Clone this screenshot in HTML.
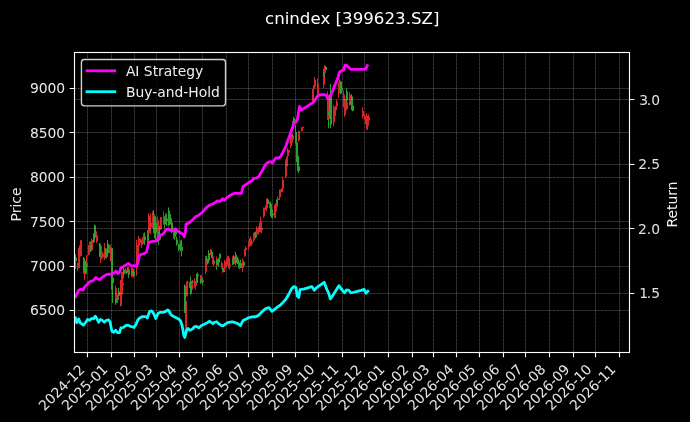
<!DOCTYPE html>
<html><head><meta charset="utf-8"><title>cnindex [399623.SZ]</title>
<style>html,body{margin:0;padding:0;background:#000;width:690px;height:422px;overflow:hidden}svg{display:block}</style>
</head><body>
<svg width="690" height="422" viewBox="0 0 690 422">
<rect width="690" height="422" fill="#000"/>
<defs><clipPath id="ax"><rect x="74.5" y="52.5" width="555" height="300"/></clipPath></defs>
<path d="M87.5 352.5V52.5M111.5 352.5V52.5M134.5 352.5V52.5M156.5 352.5V52.5M179.5 352.5V52.5M202.5 352.5V52.5M226.5 352.5V52.5M248.5 352.5V52.5M272.5 352.5V52.5M295.5 352.5V52.5M318.5 352.5V52.5M342.5 352.5V52.5M364.5 352.5V52.5M388.5 352.5V52.5M412.5 352.5V52.5M433.5 352.5V52.5M456.5 352.5V52.5M479.5 352.5V52.5M503.5 352.5V52.5M525.5 352.5V52.5M549.5 352.5V52.5M573.5 352.5V52.5M595.5 352.5V52.5M619.5 352.5V52.5M74.5 310.5H629.5M74.5 266.5H629.5M74.5 221.5H629.5M74.5 177.5H629.5M74.5 132.5H629.5M74.5 88.5H629.5" fill="none" stroke="#fff" stroke-opacity="0.15" stroke-width="0.69"/>
<path d="M87.5 352.5V52.5M111.5 352.5V52.5M134.5 352.5V52.5M156.5 352.5V52.5M179.5 352.5V52.5M202.5 352.5V52.5M226.5 352.5V52.5M248.5 352.5V52.5M272.5 352.5V52.5M295.5 352.5V52.5M318.5 352.5V52.5M342.5 352.5V52.5M364.5 352.5V52.5M388.5 352.5V52.5M412.5 352.5V52.5M433.5 352.5V52.5M456.5 352.5V52.5M479.5 352.5V52.5M503.5 352.5V52.5M525.5 352.5V52.5M549.5 352.5V52.5M573.5 352.5V52.5M595.5 352.5V52.5M619.5 352.5V52.5M74.5 310.5H629.5M74.5 266.5H629.5M74.5 221.5H629.5M74.5 177.5H629.5M74.5 132.5H629.5M74.5 88.5H629.5" fill="none" stroke="#fff" stroke-opacity="0.18" stroke-width="0.69" stroke-dasharray="2.57,1.11"/>
<g clip-path="url(#ax)"><g>
<path d="M77.5 263.02V271M78.5 248V268.41M79.5 245.39V261.5M80.5 241.29V256.64M80.5 240V249.97M84.5 270.79V274M84.5 260V280M86.5 255V271M88.5 244.91V255.4M89.5 241.5V246.21M90.5 242.35V249.76M91.5 238.5V251M95.5 230.8V235.75M96.5 234.55V243M96.5 236.7V242.49M100.5 250.22V263M101.5 246V256.59M102.5 252.46V258.24M104.5 243V260M106.5 254.27V257.35M109.5 244.6V253.5M110.5 247.9V261.5M115.5 285.7V303.64M117.5 294.29V302.83M120.5 279.89V306.4M121.5 271.6V305.83M122.5 272.09V293M122.5 272.84V280M125.5 267.99V273.23M128.5 266.6V278.2M131.5 267.63V276.24M132.5 267.82V277.07M136.5 240V275.7M137.5 245.03V256.38M137.5 248.89V258.58M138.5 236V253M139.5 238.05V243.34M141.5 239.41V248M142.5 237.45V244.69M143.5 233.3V240.81M144.5 233V240.55M147.5 237.36V242.98M148.5 213V238M149.5 215.99V230.37M150.5 213.4V234.26M152.5 211.48V228M157.5 216.6V242.37M159.5 229.21V240.18M160.5 216.96V229.8M163.5 215V220.37M163.5 211.6V224.73M165.5 213.29V224.17M173.5 228V238.31M175.5 230.38V234.99M181.5 245.05V255.94M186.5 281.55V296.3M187.5 280.6V282.93M191.5 281.73V291.4M192.5 279.8V283.12M194.5 278.1V287.62M195.5 281.25V289.7M200.5 274.8V280.19M201.5 277.87V282.65M205.5 256.19V273.9M207.5 259.24V264.08M210.5 249.1V255.23M212.5 253.15V264.18M213.5 261.11V265.41M216.5 256.5V268.91M221.5 261.5V268.55M222.5 270.25V273.1M224.5 260.02V271.5M226.5 258.2V266.17M227.5 256.1V265.49M228.5 255.7V268.49M229.5 260.29V269.8M229.5 261.87V268.32M232.5 256.38V260.61M234.5 256.14V264.1M239.5 261.42V269.5M242.5 258.5V272M244.5 248.94V256.4M245.5 247.57V250.06M245.5 246.4V249.36M248.5 242V249.8M248.5 241.5V248.92M249.5 238.44V246.4M250.5 236.5V242.39M251.5 240.75V245.5M253.5 232.96V242M254.5 232V236.48M256.5 226.5V237M258.5 226.51V234.55M259.5 222.64V231.59M260.5 216.6V227.94M260.5 220.11V232.53M261.5 228.11V233.2M263.5 207.56V217.5M264.5 207.74V210.61M265.5 205.5V210M266.5 198.63V211.5M269.5 201.67V208.34M274.5 204.4V217.75M275.5 203.2V218.1M276.5 202.53V208.1M277.5 196.5V200.49M279.5 189.57V199.9M280.5 189.4V192.08M281.5 188.2V192.1M282.5 181.05V191.6M282.5 176.6V183.72M285.5 159.25V178.3M286.5 161.28V167.5M286.5 156.4V168.27M287.5 148.1V163M288.5 149.93V156.09M290.5 134.7V148.1M292.5 133.2V142.79M298.5 130.92V141.5M301.5 128.58V131.5M301.5 127.59V129.55M302.5 126.5V129.27M312.5 89.07V102.7M313.5 85.12V90.52M314.5 77V87.5M314.5 78.31V84.48M317.5 78.5V98.4M317.5 79.05V97.9M323.5 68.52V88.5M324.5 65V77.67M327.5 91.3V119.8M333.5 109V126.4M333.5 105V115.61M334.5 107.05V120.85M335.5 105.55V111.2M336.5 99.8V107.22M338.5 82.24V97.9M339.5 81.53V84.73M339.5 79V86.8M343.5 90.3V107.4M344.5 97.9V116.9M345.5 100.4V114.94M346.5 98.01V109.62M349.5 92.2V105.5M350.5 100.71V104.88M362.5 107.4V118.59M364.5 113.94V120.26M365.5 115.74V124.5M366.5 113.1V129.33M367.5 115.69V130.1M368.5 114.15V120.62M185.5 300V334" fill="none" stroke="#d62728" stroke-width="1.0"/>
<path d="M74.5 243V268.28M75.5 254.54V269M83.5 257V273.61M85.5 260.98V274.41M90.5 241.5V252M93.5 233.32V243M94.5 224.6V242.06M99.5 243V252.94M99.5 250.84V257M105.5 248V258.12M106.5 249.61V258.5M107.5 240V255M111.5 247.7V289.96M112.5 273.31V292.47M112.5 268.62V303M115.5 298.56V304.8M116.5 298.12V303M118.5 288V299.91M123.5 267.4V276.2M126.5 270.89V273.9M127.5 267.15V272.95M128.5 271.46V277.64M131.5 270.02V276.26M133.5 268.74V277.39M144.5 232.48V245M147.5 230V241.72M153.5 210V219.21M153.5 211.6V233.18M154.5 227.05V238.44M155.5 215.9V239.8M158.5 231.24V244.8M159.5 225.71V240.57M164.5 216.28V228.2M166.5 213.87V226.01M168.5 207.4V226.5M169.5 210.66V222.72M169.5 211.63V225.18M170.5 214.14V224.44M171.5 220V233M174.5 228.2V239.8M175.5 229.12V234.64M176.5 236.5V245.6M178.5 243.68V251.4M179.5 245.5V249.32M180.5 240.61V251.08M181.5 239.8V256.4M189.5 282.46V287.75M190.5 276.4V294.7M191.5 281.04V283.18M196.5 273.69V284.7M197.5 272.3V276.36M197.5 273.85V277.99M200.5 277.1V283.8M202.5 277.73V284.7M206.5 255.7V264.55M207.5 260.82V264.5M208.5 250.03V263.3M211.5 249.7V258.05M213.5 257.99V265.7M216.5 259.87V269.8M217.5 259.1V264.79M218.5 258V266.5M219.5 253.2V260.3M222.5 267.15V271.26M223.5 270.64V272.07M232.5 257.74V264.96M233.5 255.21V261.57M235.5 252V265.5M237.5 257V264.04M238.5 260.69V266.25M238.5 261.72V268M240.5 259.58V268.21M243.5 260.8V267.8M254.5 232.92V236.94M255.5 231.5V238.36M267.5 198.2V208.21M270.5 201.5V216.15M270.5 208.46V216.17M271.5 208.74V217.98M272.5 209.24V218.2M276.5 199.59V203.92M291.5 134.26V137.97M292.5 121.25V130.5M293.5 116.6V123.07M295.5 124.9V143.7M296.5 132.03V162.31M297.5 147.06V171.18M298.5 157.39V173M323.5 71.68V77.54M325.5 65.99V72.54M328.5 100.88V128.3M329.5 95.6V118.99M330.5 84.2V118.59M330.5 97.9V128.2M340.5 80.9V94.1M341.5 84.58V93.38M346.5 88.4V103.6M349.5 98.95V104.35M351.5 94.1V110.19M352.5 96.58V111.2M184.5 284.5V313" fill="none" stroke="#2ca02c" stroke-width="1.0"/>
<path d="M78 263.95V267.99M79 254.87V267.99M80 251.11V256.12M81 245.91V256.12M81 240.26V245.91M85 271.96V273.29M85 267.36V273.8M87 263.13V267.29M89 244.91V254.85M90 244.05V245.17M91 245.91V248.53M92 239.69V250.3M96 231.25V235.18M97 235.18V241.15M97 238.49V241.15M101 251.66V259.45M102 251.66V253.74M103 253.54V257.33M105 248.35V255.93M107 255.45V257.06M110 245.06V251.98M111 251.98V259.64M116 288.17V301.55M118 295.76V298.22M121 290.2V294.5M122 283.31V294.5M123 283.31V285.56M123 274.18V278.6M126 269.68V271.89M129 269.14V274.4M132 271.37V273.51M133 271.15V273.29M137 247.52V268.08M138 247.52V254.86M138 250.81V254.86M139 238.68V245.87M140 238.68V243.07M142 243.04V245.08M143 237.54V243.99M144 237.54V239.59M145 236.22V238.26M148 239.89V242.03M149 219.86V232.88M150 219.86V222.58M151 222.58V227.16M153 214.34V223.83M158 220.19V232.17M160 234.67V239.86M161 217.35V229.39M164 217.33V218.46M164 216.73V224.26M166 217.85V221.14M174 228.94V236.65M176 231.05V232.83M182 246.91V250.2M187 282.01V296.13M188 282.01V282.7M192 283.08V289.56M193 281.33V282.72M195 281.51V283.6M196 281.51V285.84M201 275.37V279.71M202 279.7V281.47M206 258.59V271.39M208 261.71V262.78M211 252.09V253.72M213 256.3V260.76M214 261.42V264.2M217 262.47V265.4M222 263.18V267.8M223 270.75V271.83M225 261.21V268.77M227 261.21V263.3M228 257.94V263.45M229 257.94V264.48M230 264.48V266.3M230 264.54V266.36M233 258.03V259.66M235 258.81V263.23M240 263.25V266.61M243 262.23V267.72M245 249.06V256.21M246 248.78V249.73M246 247.67V248.78M249 243.59V247.12M249 243.59V247.12M250 238.69V246.13M251 238.69V241.44M252 241.44V243.38M254 234.72V240.32M255 233.72V235.1M257 228.66V234.28M259 228.2V232.09M260 224.88V229.4M261 221.11V224.88M261 221.11V228.24M262 228.24V230.28M264 209.07V216.48M265 208.59V209.38M266 206.65V208.59M267 199.44V207.3M270 203.89V206.44M275 210V214.8M276 208.37V211.18M277 203.09V206.95M278 198.6V200M280 191.29V197.23M281 189.94V191.45M282 189.94V191.45M283 181.75V188.49M283 179.95V181.75M286 163.54V176.7M287 163.54V166.46M287 160.16V166.46M288 150.01V156.12M289 150.01V152.81M291 137.1V146.06M293 135.34V139.46M299 131.12V140.45M302 128.68V131.12M302 128.05V128.68M303 127.08V128.05M313 89.11V101.54M314 86.86V89.11M315 79.47V86.86M315 79.47V82.82M318 83.93V89.17M318 89.17V93.35M324 76.5V84.84M325 66.98V73.23M328 95.53V119.04M334 111V122.59M334 107.98V111M335 107.98V116.36M336 106.23V110.23M337 101.7V106.23M339 83.22V93.22M340 81.95V83.52M340 80.63V82.2M344 94.54V102.77M345 98.86V110.48M346 102.28V110.48M347 102.28V109.02M350 95.05V102.36M351 101.32V103.24M363 111.04V116.31M365 116.31V117.64M366 117.58V120.73M367 116.57V125.64M368 120.16V125.64M369 116.87V120.16M186 301V331" fill="none" stroke="#d62728" stroke-width="2.0"/>
<path d="M75 257.42V261.02M76 257.42V261.02M84 258.33V271.96M86 263.51V273.8M91 245.91V248.53M94 237.38V239.75M95 225.55V237.38M100 243.81V251.96M100 251.96V256.72M106 248.55V255.45M107 250.28V256.52M108 244.09V252.99M112 248.12V283.16M113 277.76V283.16M113 277.76V280.5M116 298.63V301.55M117 298.22V300.07M119 291.4V295.76M124 269.68V274.18M127 271.09V272.18M128 269.14V271.99M129 272.7V274.84M132 271.37V273.51M134 271.15V276.08M145 236.78V239.89M148 233.8V240.77M154 214.03V215.56M154 216.32V231.7M155 231.7V233.24M156 223.01V232.72M159 232.17V239.86M160 234.67V238.63M165 217.85V224.26M167 218.44V221.14M169 214.69V222.55M170 214.69V218.93M170 218.93V221.29M171 218.37V220.74M172 222.72V230.91M175 231.05V236.65M176 231.85V234.56M177 239.58V244.15M179 244.15V248.13M180 246.63V248.43M181 244.03V247.32M182 247.55V250.83M190 282.63V285.8M191 285.78V293.58M192 281.33V283.08M197 274.9V282.97M198 274.52V276.31M198 274.52V276.31M201 279.7V281.47M203 280.59V282.36M207 258.59V261.71M208 261.92V262.98M209 252.89V260.49M212 252.09V256.3M214 260.76V262.38M217 261.42V264.2M218 262.55V264.46M219 258.19V262.55M220 253.92V258.19M223 267.8V270.75M224 271.08V272M233 259.66V264.51M234 258.03V259.64M236 254.84V263.23M238 258.74V262.61M239 262.61V265.77M239 264.05V265.77M241 263.25V267.72M244 262.23V265.47M255 233.79V235.17M256 233.72V237.3M268 199.44V203.89M271 203.76V213.69M271 212.65V214.29M272 212.65V214.29M273 213.62V215.27M277 199.75V203.09M292 135.34V137.1M293 121.53V129.06M294 118.19V121.53M296 132.84V142.62M297 142.62V155.81M298 155.81V166.55M299 166.55V170.69M324 73.23V76.5M326 66.98V70.05M329 111.71V114.6M330 103.77V111.98M331 92.68V103.77M331 102V124.42M341 81.6V88.6M342 87.65V90.22M347 91.58V100.58M350 102.36V104.28M352 101.47V106.45M353 105.69V110.66M185 285.5V312" fill="none" stroke="#2ca02c" stroke-width="2.0"/>
</g></g>
<path d="M74.5 293.5H629.5M74.5 228.5H629.5M74.5 164.5H629.5M74.5 99.5H629.5" fill="none" stroke="#fff" stroke-opacity="0.15" stroke-width="0.69"/>
<path d="M74.5 293.5H629.5M74.5 228.5H629.5M74.5 164.5H629.5M74.5 99.5H629.5" fill="none" stroke="#fff" stroke-opacity="0.18" stroke-width="0.69" stroke-dasharray="2.57,1.11"/>
<g clip-path="url(#ax)" fill="none" stroke-width="2.78" stroke-linejoin="round" stroke-linecap="square">
<path d="M75.6 296.58L77.2 293.38L78.8 290.18L80.93 289.12L83.06 290.18L84.66 286.98L86.79 284.85L88.93 282.19L91.06 281.12L93.19 280.59L95.86 277.39L97.45 278.99L99.59 279.52L101.72 277.92L104.38 275.79L106.52 274.72L109.18 274.19L111.85 274.19L114.51 272.59L116.11 270.99L117.71 273.66L119.31 272.59L120.91 267.79L123.04 266.73L125.71 265.13L128.37 263.53L130.5 265.13L132.1 266.19L134.02 265.66L136.32 266.09L137.77 263.19L139.22 255.94L140.67 254.49L143.57 253.77L146.46 252.32L148.66 242.64L151.32 241.58L155.59 241.04L157.72 239.45L159.32 235.71L161.98 234.65L164.12 233.05L165.71 229.85L168.38 228.78L170.51 230.38L172.64 230.92L175.31 228.78L177.44 230.92L180.11 232.52L182.77 234.12L184.37 236.78L185.44 231.98L186 224.24L189.2 222.64L192.4 219.98L195.59 216.78L198.79 215.18L201.99 212.52L204.66 209.32L207.32 206.65L209.99 205.05L212.65 203.99L215.32 202.39L217.45 200.79L220.12 201.32L222.78 198.66L224.38 200.26L226.51 198.12L229.18 195.99L231.84 194.39L234.51 193.33L241.4 193.3L243.1 186.5L245.48 184.86L248.32 182.96L250.22 181.54L252.11 180.59L253.54 178.7L255.91 178.22L258.75 176.8L260.17 173.96L262.54 170.17L264.44 166.37L266.33 163.53L268.7 162.11L271.07 161.64L272.49 163.06L273.91 160.69L275.81 157.84L278.19 158.14L280.68 156.48L283.17 151.51L285.66 146.53L288 139.9L290.5 133.2L292.2 128.2L293.8 123.3L295.5 122.4L297.2 120L298.13 114.9L299.56 106.36L301.69 109.92L305.96 107.08L310.22 104.23L313.78 102.1L316.63 97.12L318.76 94.98L323.03 94.7L325.87 94.98L327.29 97.83L330.14 95.7L332.27 92.14L333.7 87.87L335.83 82.89L337.96 77.91L339.39 72.22L341.52 70.8L343.65 70.09L345.08 65.11L346.5 65.11L348.63 67.25L350.77 69.38L355.74 69.38L361.4 69.4L365.6 69.2L367.3 65.6" stroke="#ff00ff"/>
<path d="M75.42 318.01L76.84 322.75L78.74 318.96L80.16 322.75L83.48 325.12L85.37 322.75L87.74 319.43L89.64 320.38L91.54 318.48L93.43 318.96L95.33 316.11L96.75 318.48L98.64 322.27L100.54 319.43L102.44 320.38L104.33 322.27L106.23 320.38L108.6 319.91L110.02 321.8L111.91 331.28L113.81 332.23L115.71 330.33L117.6 332.7L119.5 332.7L120.92 327.96L123.29 327.49L125.66 325.59L128.03 325.12L130.87 326.54L134 327.01L134 327.49L135.9 324.64L137.79 319.91L139.69 318.01L142.53 316.59L145.37 316.59L147.27 318.01L149.64 311.37L151.54 310.9L152.96 312.32L154.38 315.17L155.8 318.48L158.17 313.27L160.54 312.32L163.38 312.32L165.75 311.37L167.65 309.95L169.07 310.9L170.49 314.22L172.86 316.11L175.71 317.54L178.55 318.96L180.45 320.85L181.87 324.64L182.82 329.38L183.76 335.07L184.71 337.44L185.66 334.12L186.61 330.33L188.03 328.44L189.92 330.33L191.82 329.38L194 327.49L194 326.97L196.84 326.49L198.74 327.91L201.58 325.55L204.43 324.12L207.27 322.7L209.64 321.28L211.54 322.7L212.96 323.65L214.85 322.23L216.75 321.75L218.64 323.65L221.49 325.55L223.38 325.55L225.28 324.12L227.65 322.7L230.02 322.23L232.39 321.75L234.28 322.23L236.65 323.18L238.55 324.12L240.45 325.55L241.87 322.7L243.29 320.33L245.66 319.38L248.03 317.96L250.87 317.01L254 316.54L254.57 317.1L258.19 315.65L260.36 313.48L263.26 310.58L266.16 308.41L269.06 307.68L271.96 311.3L274.86 309.13L277.75 306.96L280.65 304.78L283.55 301.88L286.45 298.26L289.35 293.19L291.52 288.84L293.7 286.67L295.87 287.39L297.32 296.09L298.77 297.54L300 289.57L304.35 288.84L308.7 287.68L310 287.06L311.9 286.59L314.27 290.38L316.64 287.54L319.48 285.64L324.22 282.32L326.59 288.96L328.48 292.75L330.38 298.91L332.75 295.59L335.12 291.8L338.91 285.64L341.28 288.96L343.18 291.33L344.6 292.75L346.49 289.91L348.86 290.38L350.76 292.75L353.6 292.27L357.39 291.33L361.18 290.38L364.03 289.43L365.92 293.22L367.82 291.33" stroke="#00ffff"/>
</g>
<rect x="74.5" y="52.5" width="555" height="300" fill="none" stroke="#fff" stroke-width="1.11"/>
<path d="M87.5 352.5V357.36M111.5 352.5V357.36M134.5 352.5V357.36M156.5 352.5V357.36M179.5 352.5V357.36M202.5 352.5V357.36M226.5 352.5V357.36M248.5 352.5V357.36M272.5 352.5V357.36M295.5 352.5V357.36M318.5 352.5V357.36M342.5 352.5V357.36M364.5 352.5V357.36M388.5 352.5V357.36M412.5 352.5V357.36M433.5 352.5V357.36M456.5 352.5V357.36M479.5 352.5V357.36M503.5 352.5V357.36M525.5 352.5V357.36M549.5 352.5V357.36M573.5 352.5V357.36M595.5 352.5V357.36M619.5 352.5V357.36M74.5 310.5H69.64M74.5 266.5H69.64M74.5 221.5H69.64M74.5 177.5H69.64M74.5 132.5H69.64M74.5 88.5H69.64M629.5 293.5H634.36M629.5 228.5H634.36M629.5 164.5H634.36M629.5 99.5H634.36" stroke="#fff" stroke-width="1.11"/>
<g font-family="'DejaVu Sans', sans-serif" font-size="13.89" fill="#fff">
<text transform="translate(44.43 411.44) rotate(-45)" fill="#e4e4e4">2024-12</text>
<text transform="translate(67.62 411.22) rotate(-45)" fill="#e4e4e4">2025-01</text>
<text transform="translate(91.42 411.4) rotate(-45)" fill="#e4e4e4">2025-02</text>
<text transform="translate(112.47 411.36) rotate(-45)" fill="#e4e4e4">2025-03</text>
<text transform="translate(136.47 411.29) rotate(-45)" fill="#e4e4e4">2025-04</text>
<text transform="translate(158.62 411.16) rotate(-45)" fill="#e4e4e4">2025-05</text>
<text transform="translate(182.54 411.24) rotate(-45)" fill="#e4e4e4">2025-06</text>
<text transform="translate(205.57 411.25) rotate(-45)" fill="#e4e4e4">2025-07</text>
<text transform="translate(228.51 411.28) rotate(-45)" fill="#e4e4e4">2025-08</text>
<text transform="translate(252.43 411.37) rotate(-45)" fill="#e4e4e4">2025-09</text>
<text transform="translate(274.53 411.31) rotate(-45)" fill="#e4e4e4">2025-10</text>
<text transform="translate(298.56 411.33) rotate(-45)" fill="#e4e4e4">2025-11</text>
<text transform="translate(321.44 411.45) rotate(-45)" fill="#e4e4e4">2025-12</text>
<text transform="translate(344.59 411.23) rotate(-45)" fill="#e4e4e4">2026-01</text>
<text transform="translate(368.48 411.34) rotate(-45)" fill="#e4e4e4">2026-02</text>
<text transform="translate(389.46 411.36) rotate(-45)" fill="#e4e4e4">2026-03</text>
<text transform="translate(413.52 411.23) rotate(-45)" fill="#e4e4e4">2026-04</text>
<text transform="translate(435.56 411.2) rotate(-45)" fill="#e4e4e4">2026-05</text>
<text transform="translate(459.55 411.2) rotate(-45)" fill="#e4e4e4">2026-06</text>
<text transform="translate(482.53 411.26) rotate(-45)" fill="#e4e4e4">2026-07</text>
<text transform="translate(505.54 411.24) rotate(-45)" fill="#e4e4e4">2026-08</text>
<text transform="translate(529.47 411.32) rotate(-45)" fill="#e4e4e4">2026-09</text>
<text transform="translate(551.53 411.29) rotate(-45)" fill="#e4e4e4">2026-10</text>
<text transform="translate(575.62 411.25) rotate(-45)" fill="#e4e4e4">2026-11</text>
<text x="64.88" y="314.88" text-anchor="end" letter-spacing="-0.1" fill="#e8e8e8">6500</text>
<text x="64.88" y="271.38" text-anchor="end" letter-spacing="-0.1" fill="#e8e8e8">7000</text>
<text x="64.88" y="226.98" text-anchor="end" letter-spacing="-0.1" fill="#e8e8e8">7500</text>
<text x="64.88" y="181.68" text-anchor="end" letter-spacing="-0.1" fill="#e8e8e8">8000</text>
<text x="64.88" y="138.38" text-anchor="end" letter-spacing="-0.1" fill="#e8e8e8">8500</text>
<text x="64.88" y="92.88" text-anchor="end" letter-spacing="-0.1" fill="#e8e8e8">9000</text>
<text x="639.22" y="297.88" fill="#e1e1e1">1<tspan dx="-1.2">.5</tspan></text>
<text x="638.12" y="233.61" fill="#e1e1e1">2<tspan dx="-0.1">.0</tspan></text>
<text x="638.32" y="169.24" fill="#e1e1e1">2<tspan dx="-0.3">.5</tspan></text>
<text x="639.22" y="104.78" fill="#e1e1e1">3<tspan dx="-1.2">.0</tspan></text>
<text transform="translate(21.49 204.5) rotate(-90)" text-anchor="middle" fill="#e7e7e7">Price</text>
<text transform="translate(677.42 204.5) rotate(-90)" text-anchor="middle" fill="#f1f1f1">Return</text>
</g>
<path d="M84.22 59.44H222.75Q225.52 59.44 225.52 62.22V103.12Q225.52 105.9 222.75 105.9H84.22Q81.44 105.9 81.44 103.12V62.22Q81.44 59.44 84.22 59.44z" fill="#000" fill-opacity="0.8" stroke="#d0d0d0" stroke-width="1.39"/>
<path d="M87 70.8H114.78" stroke="#ff00ff" stroke-width="2.78" stroke-linecap="square"/>
<path d="M87 91.7H114.78" stroke="#00ffff" stroke-width="2.78" stroke-linecap="square"/>
<g font-family="'DejaVu Sans', sans-serif" font-size="13.89" fill="#fff">
<text x="125.89" y="75.55" fill="#f0f0f0">AI Strategy</text>
<text x="125.89" y="96.84" fill="#f0f0f0">Buy-and-Hold</text>
<text x="352.2" y="23.66" text-anchor="middle" font-size="16.67">cnindex [399623.SZ]</text>
</g>
</svg>
</body></html>
